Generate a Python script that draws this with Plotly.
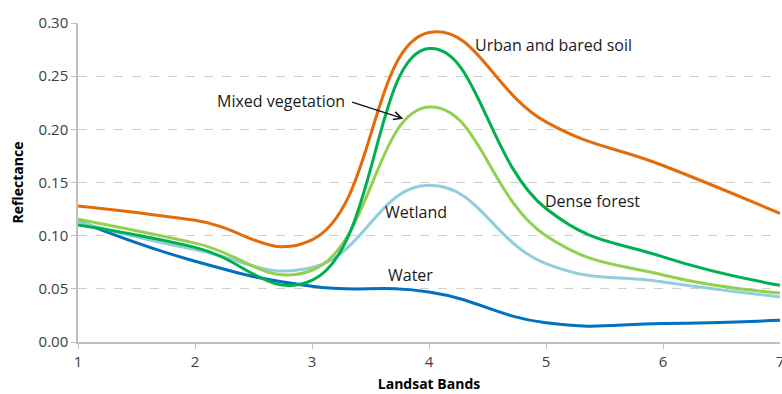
import plotly.graph_objects as go

bands = [1, 2, 3, 4, 5, 6, 7]
urban = [0.128, 0.1145, 0.096, 0.291, 0.207, 0.166, 0.121]
dense_forest = [0.110, 0.089, 0.058, 0.276, 0.1255, 0.080, 0.0533]
mixed_veg = [0.1154, 0.093, 0.0675, 0.221, 0.100, 0.063, 0.046]
wetland = [0.113, 0.087, 0.070, 0.1474, 0.0737, 0.0565, 0.0423]
water = [0.114, 0.076, 0.0524, 0.047, 0.018, 0.0173, 0.0204]

series = [
    ("Water", water, "#0070C0"),
    ("Wetland", wetland, "#92CDDC"),
    ("Mixed vegetation", mixed_veg, "#92D050"),
    ("Dense forest", dense_forest, "#00B050"),
    ("Urban and bared soil", urban, "#E36C0A"),
]

font_family = "'Open Sans', sans-serif"

fig = go.Figure()
for name, vals, col in series:
    fig.add_trace(go.Scatter(
        x=bands, y=vals, name=name, mode="lines",
        line=dict(color=col, width=3, shape="spline", smoothing=1.3),
        showlegend=False, cliponaxis=False,
    ))

labels = [
    ("Urban and bared soil", 4.39, 0.279),
    ("Mixed vegetation", 2.19, 0.227),
    ("Dense forest", 4.99, 0.133),
    ("Wetland", 3.62, 0.122),
    ("Water", 3.65, 0.063),
]
for txt, lx, ly in labels:
    fig.add_annotation(x=lx, y=ly, text=txt, showarrow=False,
                       xanchor="left", yanchor="middle", xshift=-2,
                       font=dict(family=font_family, size=16, color="#1a1a1a"))

fig.add_annotation(x=3.78, y=0.210, ax=3.33, ay=0.226, axref="x", ayref="y",
                   text="", showarrow=True, arrowhead=5, arrowsize=1.2,
                   arrowwidth=1.3, arrowcolor="#111111")

# last band label sits on the right edge, partly cut as in the original
fig.add_annotation(x=bands[-1], y=0, text=str(bands[-1]), showarrow=False,
                   xanchor="center", yanchor="top", yshift=-7,
                   font=dict(family=font_family, size=15, color="#404040"))

fig.update_layout(
    width=782, height=394,
    margin=dict(l=78, r=2, t=23, b=52, autoexpand=False),
    paper_bgcolor="white", plot_bgcolor="white",
    font=dict(family=font_family, size=15, color="#404040"),
    xaxis=dict(
        range=[1, 7], tickvals=bands[:-1], ticktext=[str(b) for b in bands[:-1]],
        ticks="outside", ticklen=5, automargin=False,
        tickcolor="#BFBFBF", showgrid=False, zeroline=False,
        showline=True, linecolor="#BFBFBF", linewidth=1.5,
        title=dict(text="<b>Landsat Bands</b>", font=dict(size=14, color="#000000"), standoff=9),
        tickfont=dict(size=15, color="#404040"),
    ),
    yaxis=dict(
        range=[0, 0.30], dtick=0.05, tickformat=".2f", ticks="outside", ticklen=5,
        automargin=False,
        tickcolor="#BFBFBF", showgrid=True, gridcolor="#D0D0D0", griddash="dash",
        zeroline=False, showline=True, linecolor="#BFBFBF", linewidth=1.5,
        title=dict(text="<b>Reflectance</b>", font=dict(size=14, color="#000000"), standoff=12),
        tickfont=dict(size=15, color="#404040"),
    ),
)

fig.write_html("out.html", config={"displayModeBar": False},
               post_script="document.body.style.margin='0';document.body.style.overflow='hidden';")
